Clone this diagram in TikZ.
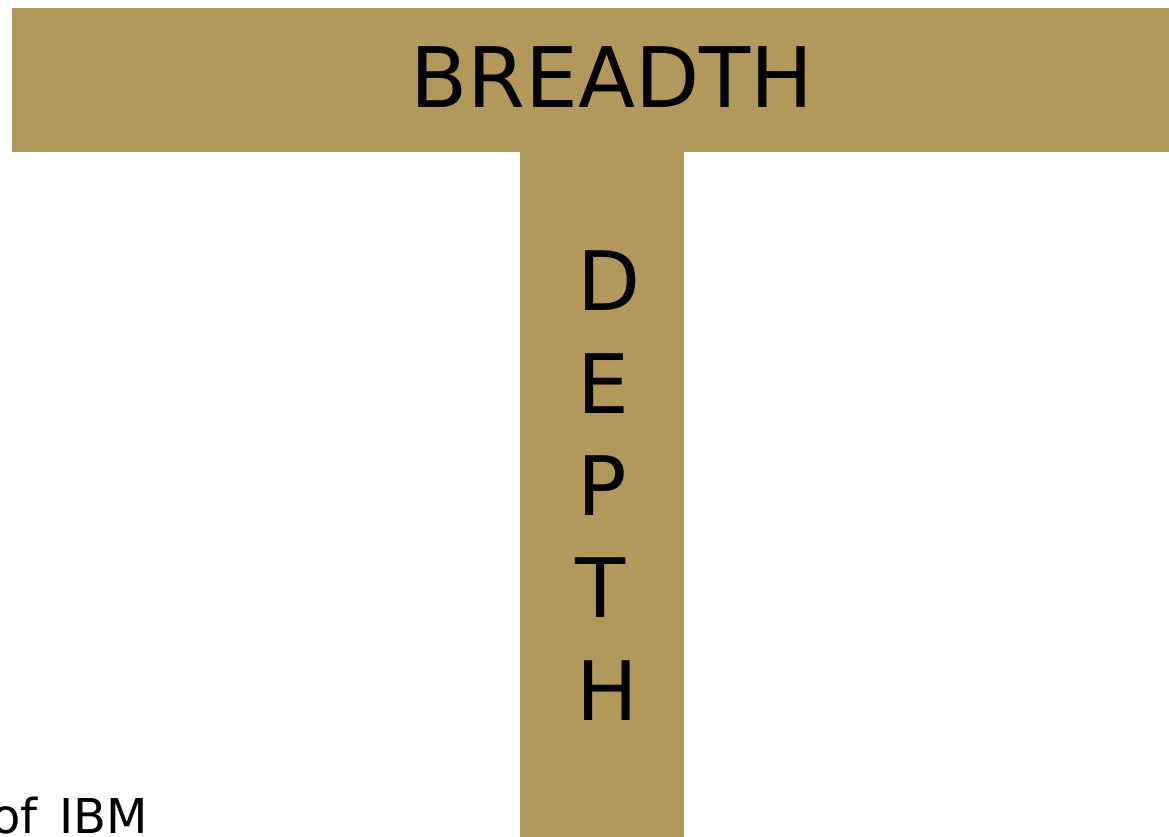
\documentclass[tikz,border=0pt]{standalone}
\usepackage{fontspec}
\setmainfont{DejaVu Sans}
\definecolor{gold}{HTML}{B3985B}
\begin{document}
\begin{tikzpicture}[x=1pt,y=-1pt,
  bar/.style={fill=gold,draw=none},
  big/.style={font=\fontsize{82}{82}\selectfont,inner sep=0pt,anchor=base},
  small/.style={font=\fontsize{48}{48}\selectfont,inner sep=0pt,anchor=base west}]
\useasboundingbox (0,0) rectangle (1169,837);
\fill[white] (0,0) rectangle (1169,837);
\path[bar] (12,8) rectangle (1169,152);
\path[bar] (520,152) rectangle (684,837);
\node[big,font=\fontsize{83.5}{83.5}\selectfont] (breadth) at (612,107.5) {BREADTH};
\node[big] (d) at (609,310) {D};
\node[big] (e) at (603,413) {E};
\node[big] (p) at (602,515) {P};
\node[big] (t) at (601,617) {T};
\node[big] (h) at (607,720) {H};
\node[small] (ibm) at (-9,833) {of\hspace{0.465em}IBM};
\end{tikzpicture}
\end{document}
